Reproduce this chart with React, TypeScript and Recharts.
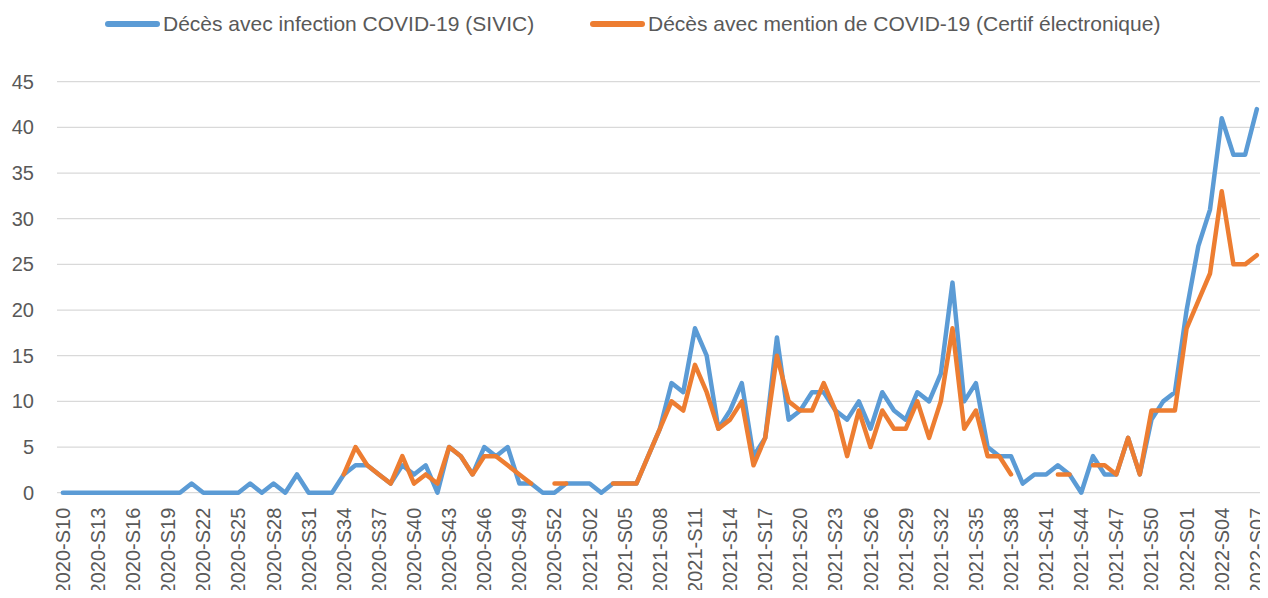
import React from "react";
import { LineChart, Line, XAxis, YAxis, CartesianGrid } from "recharts";

const categories: string[] = [
  "2020-S10","2020-S11","2020-S12","2020-S13","2020-S14","2020-S15","2020-S16","2020-S17","2020-S18","2020-S19",
  "2020-S20","2020-S21","2020-S22","2020-S23","2020-S24","2020-S25","2020-S26","2020-S27","2020-S28","2020-S29",
  "2020-S30","2020-S31","2020-S32","2020-S33","2020-S34","2020-S35","2020-S36","2020-S37","2020-S38","2020-S39",
  "2020-S40","2020-S41","2020-S42","2020-S43","2020-S44","2020-S45","2020-S46","2020-S47","2020-S48","2020-S49",
  "2020-S50","2020-S51","2020-S52","2020-S53",
  "2021-S01","2021-S02","2021-S03","2021-S04","2021-S05","2021-S06","2021-S07","2021-S08","2021-S09","2021-S10",
  "2021-S11","2021-S12","2021-S13","2021-S14","2021-S15","2021-S16","2021-S17","2021-S18","2021-S19","2021-S20",
  "2021-S21","2021-S22","2021-S23","2021-S24","2021-S25","2021-S26","2021-S27","2021-S28","2021-S29","2021-S30",
  "2021-S31","2021-S32","2021-S33","2021-S34","2021-S35","2021-S36","2021-S37","2021-S38","2021-S39","2021-S40",
  "2021-S41","2021-S42","2021-S43","2021-S44","2021-S45","2021-S46","2021-S47","2021-S48","2021-S49","2021-S50",
  "2021-S51","2021-S52",
  "2022-S01","2022-S02","2022-S03","2022-S04","2022-S05","2022-S06","2022-S07",
];

const sivic: number[] = [
  0,0,0,0,0,0,0,0,0,0,0,1,0,0,0,0,1,0,1,0,2,0,0,0,
  2,3,3,2,1,3,2,3,0,5,4,2,5,4,5,1,1,0,0,1,
  1,1,0,1,1,1,4,7,12,11,18,15,7,9,12,4,6,17,8,9,11,11,9,8,10,7,11,9,8,11,10,13,23,10,12,5,4,4,1,2,2,3,2,0,4,2,2,6,2,8,10,11,
  20,27,31,41,37,37,42,
];

const certif: (number | null)[] = [
  null,null,null,null,null,null,null,null,null,null,null,null,null,null,null,null,null,null,null,null,null,null,null,null,
  2,5,3,2,1,4,1,2,1,5,4,2,4,4,3,2,1,null,1,1,
  null,null,null,1,1,1,4,7,10,9,14,11,7,8,10,3,6,15,10,9,9,12,9,4,9,5,9,7,7,10,6,10,18,7,9,4,4,2,null,null,null,2,2,null,3,3,2,6,2,9,9,9,
  18,21,24,33,25,25,26,
];

const yTicks: number[] = [0, 5, 10, 15, 20, 25, 30, 35, 40, 45];

const seriesNames = [
  "Décès avec infection COVID-19 (SIVIC)",
  "Décès avec mention de COVID-19 (Certif électronique)",
];

const data = categories.map((c, i) => ({ week: c, sivic: sivic[i], certif: certif[i] }));

const FONT = "'Liberation Sans', Arial, sans-serif";
const TEXT = "#595959";
const BLUE = "#5B9BD5";
const ORANGE = "#ED7D31";

const XTick = (props: any) => {
  const { x, y, payload } = props;
  return (
    <text
      x={x}
      y={y}
      transform={`rotate(-90 ${x} ${y})`}
      textAnchor="end"
      dominantBaseline="central"
      fill={TEXT}
      fontSize={20}
      fontFamily={FONT}
    >
      {payload.value}
    </text>
  );
};

export default function App() {
  return (
    <div style={{ position: "relative", width: 1268, height: 598, margin: -8, overflow: "hidden", background: "#fff" }}>
      <LineChart
        width={1268}
        height={598}
        data={data}
        margin={{ top: 81.7, right: 5.3, bottom: 5.3, left: 0 }}
      >
        <CartesianGrid vertical={false} stroke="#D9D9D9" strokeWidth={1.3} />
        <XAxis
          dataKey="week"
          interval={2}
          height={100}
          padding={{ left: 5.85, right: 5.85 }}
          axisLine={false}
          tickLine={false}
          tickSize={0}
          tickMargin={15}
          tick={<XTick />}
        />
        <YAxis
          domain={[0, 45]}
          ticks={yTicks}
          width={57}
          axisLine={false}
          tickLine={false}
          tickSize={0}
          tickMargin={23}
          tick={{ fill: TEXT, fontSize: 20, fontFamily: FONT }}
        />
        <Line
          type="linear"
          dataKey="sivic"
          stroke={BLUE}
          strokeWidth={4.5}
          dot={false}
          strokeLinejoin="round"
          strokeLinecap="round"
          isAnimationActive={false}
        />
        <Line
          type="linear"
          dataKey="certif"
          stroke={ORANGE}
          strokeWidth={4.5}
          dot={false}
          strokeLinejoin="round"
          strokeLinecap="round"
          isAnimationActive={false}
        />
      </LineChart>
      <div style={{ position: "absolute", top: 0, left: 105, height: 48, display: "flex", alignItems: "center" }}>
        <div style={{ width: 55, height: 6, borderRadius: 3, background: BLUE, marginRight: 3 }} />
        <span style={{ fontFamily: FONT, fontSize: 21, color: TEXT, whiteSpace: "nowrap" }}>{seriesNames[0]}</span>
      </div>
      <div style={{ position: "absolute", top: 0, left: 590, height: 48, display: "flex", alignItems: "center" }}>
        <div style={{ width: 55, height: 6, borderRadius: 3, background: ORANGE, marginRight: 3 }} />
        <span style={{ fontFamily: FONT, fontSize: 21, color: TEXT, whiteSpace: "nowrap" }}>{seriesNames[1]}</span>
      </div>
    </div>
  );
}
